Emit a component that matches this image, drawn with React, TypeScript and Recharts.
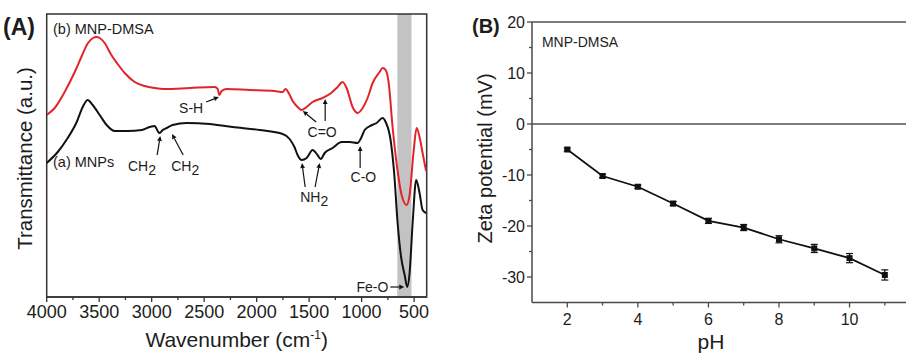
import React from 'react';
import {
  ComposedChart,
  Line,
  XAxis,
  YAxis,
  ReferenceArea,
  ReferenceLine,
  ReferenceDot,
  ErrorBar,
} from 'recharts';

const FONT = '"Liberation Sans", Arial, Helvetica, sans-serif';
const TEXT = '#1c1c1c';
const AXIS = '#333333';
const AXIS_B = '#4a4a4a';
const GUIDE_B = '#7c7c7c';

// ---------------- Panel A: FTIR spectra ----------------
const mnpDmsaWavenumber = [4000, 3924, 3829, 3733, 3670, 3607, 3559, 3527, 3495, 3448, 3384, 3324, 3257, 3162, 3067, 2971, 2876, 2638, 2400, 2371, 2355, 2333, 2286, 2067, 1830, 1752, 1724, 1690, 1657, 1610, 1571, 1524, 1467, 1371, 1290, 1229, 1181, 1140, 1086, 1038, 990, 943, 895, 829, 800, 771, 743, 705, 657, 619, 571, 543, 505, 476, 448, 419, 386];
const mnpDmsaTransmittance = [182, 189, 205, 225, 240, 254, 259, 260, 259, 254, 242, 233, 224, 215, 211, 209, 208, 209, 210, 208, 202, 206, 208, 207, 206, 205, 208, 203, 196, 190, 187, 190, 195, 199, 204, 210, 215, 208, 190, 184, 189, 199, 214, 225, 229, 227, 215, 170, 126, 102, 92, 102, 145, 169, 160, 144, 126];

const mnpWavenumber = [4000, 3895, 3800, 3714, 3657, 3610, 3562, 3495, 3429, 3352, 3229, 3095, 3019, 2971, 2943, 2924, 2895, 2857, 2800, 2667, 2448, 2229, 1971, 1752, 1686, 1640, 1610, 1571, 1524, 1467, 1420, 1390, 1352, 1276, 1190, 1114, 1038, 1005, 971, 900, 857, 800, 771, 724, 690, 657, 624, 590, 565, 543, 514, 480, 448, 419, 386];
const mnpTransmittance = [134, 145, 159, 175, 190, 197, 192, 182, 172, 166, 166, 167, 170, 171, 166, 164, 167, 169, 172, 174, 173, 170, 167, 163, 158, 150, 142, 137, 139, 147, 142, 138, 144, 149, 155, 155, 154, 159, 167, 172, 174, 179, 175, 157, 124, 74, 40, 22, 10, 24, 74, 117, 104, 87, 84];

const ftirDomain = [380, 4000];
const transDomain = [0, 283];
const ftirMajorTicks = [4000, 3500, 3000, 2500, 2000, 1500, 1000, 500];
const ftirMinorTicks = [3750, 3250, 2750, 2250, 1750, 1250, 750];
const feOBand = [660, 525];

const seriesLabels = [
  { text: '(b) MNP-DMSA', wn: 3940, t: 268 },
  { text: '(a) MNPs', wn: 3940, t: 135 },
];

const peakLabels = [
  { text: 'S-H', sub: '', wn: 2624, t: 189, anchor: 'middle' },
  { text: 'CH', sub: '2', wn: 3092, t: 131, anchor: 'middle' },
  { text: 'CH', sub: '2', wn: 2681, t: 131, anchor: 'middle' },
  { text: 'C=O', sub: '', wn: 1376, t: 165, anchor: 'middle' },
  { text: 'NH', sub: '2', wn: 1452, t: 100, anchor: 'middle' },
  { text: 'C-O', sub: '', wn: 983, t: 120, anchor: 'middle' },
  { text: 'Fe-O', sub: '', wn: 746, t: 10, anchor: 'end' },
];

const peakArrows = [
  { from: [2481, 195], to: [2360, 200] },
  { from: [2948, 142], to: [2918, 161] },
  { from: [2700, 142], to: [2806, 163] },
  { from: [1433, 175], to: [1560, 186] },
  { from: [1347, 176], to: [1347, 198] },
  { from: [1538, 110], to: [1568, 134] },
  { from: [1443, 110], to: [1400, 134] },
  { from: [1014, 129], to: [1014, 151] },
  { from: [727, 10], to: [594, 10] },
];

// ---------------- Panel B: zeta potential ----------------
const phValues = [2, 3, 4, 5, 6, 7, 8, 9, 10, 11];
const zetaValues = [-5.0, -10.2, -12.3, -15.6, -19.0, -20.3, -22.6, -24.4, -26.3, -29.6];
const zetaErrors = [0.3, 0.35, 0.35, 0.4, 0.5, 0.6, 0.7, 0.8, 0.9, 1.0];
const phDomain = [1, 11.6];
const zetaDomain = [-35, 20];
const phMajorTicks = [2, 4, 6, 8, 10];
const phMinorTicks = [3, 5, 7, 9, 11];
const zetaMajorTicks = [-30, -20, -10, 0, 10, 20];
const zetaMinorTicks = [-25, -15, -5, 5, 15];
const zetaSampleLabel = { text: 'MNP-DMSA', ph: 1.28, z: 16.1 };

const mnpDmsaData = mnpDmsaWavenumber.map((wn, i) => ({ wn, t: mnpDmsaTransmittance[i] }));
const mnpData = mnpWavenumber.map((wn, i) => ({ wn, t: mnpTransmittance[i] }));
const zetaData = phValues.map((ph, i) => ({ ph, z: zetaValues[i], err: zetaErrors[i] }));

const FtirTick = (props: any) => {
  const { x, y, payload } = props;
  const major = ftirMajorTicks.includes(payload.value);
  return (
    <g>
      <line x1={x} y1={y} x2={x} y2={y + (major ? 5 : 3)} stroke={AXIS} strokeWidth={1.3} />
      {major && (
        <text x={x} y={y + 21} textAnchor="middle" fontSize={18} fill={TEXT} fontFamily={FONT}>
          {payload.value}
        </text>
      )}
    </g>
  );
};

const PhTick = (props: any) => {
  const { x, y, payload } = props;
  const major = phMajorTicks.includes(payload.value);
  return (
    <g>
      <line x1={x} y1={y} x2={x} y2={y + (major ? 5 : 3)} stroke={AXIS_B} strokeWidth={1.3} />
      {major && (
        <text x={x} y={y + 22.5} textAnchor="middle" fontSize={16} fill={TEXT} fontFamily={FONT}>
          {payload.value}
        </text>
      )}
    </g>
  );
};

const ZetaTick = (props: any) => {
  const { x, y, payload } = props;
  const major = zetaMajorTicks.includes(payload.value);
  return (
    <g>
      <line x1={x - (major ? 5 : 3)} y1={y} x2={x} y2={y} stroke={AXIS_B} strokeWidth={1.3} />
      {major && (
        <text x={x - 7} y={y + 6} textAnchor="end" fontSize={16} fill={TEXT} fontFamily={FONT}>
          {payload.value}
        </text>
      )}
    </g>
  );
};

const arrowShape = (p: any) => {
  const { x1, y1, x2, y2 } = p;
  const dx = x2 - x1;
  const dy = y2 - y1;
  const len = Math.hypot(dx, dy) || 1;
  const ux = dx / len;
  const uy = dy / len;
  const hl = 5;
  const hw = 2.4;
  const bx = x2 - ux * hl;
  const by = y2 - uy * hl;
  return (
    <g>
      <line x1={x1} y1={y1} x2={bx} y2={by} stroke="#111" strokeWidth={1.2} />
      <polygon
        points={`${x2},${y2} ${bx - uy * hw},${by + ux * hw} ${bx + uy * hw},${by - ux * hw}`}
        fill="#111"
      />
    </g>
  );
};

const makeTextShape = (text: string, sub: string, anchor: string, size: number) => (p: any) => (
  <text
    x={p.cx}
    y={p.cy}
    textAnchor={anchor as any}
    dominantBaseline="central"
    fontSize={size}
    fill={TEXT}
    fontFamily={FONT}
  >
    {text}
    {sub ? (
      <tspan dy={4} fontSize={size}>
        {sub}
      </tspan>
    ) : null}
  </text>
);

const ftirYTitle = (p: any) => {
  const vb = p.viewBox || { x: 0, y: 14, width: 46.7, height: 283 };
  const cx = vb.x + 32;
  const cy = vb.y + vb.height / 2 + 3;
  return (
    <text
      x={cx}
      y={cy}
      transform={`rotate(-90, ${cx}, ${cy})`}
      textAnchor="middle"
      fontSize={20.5}
      fill={TEXT}
      fontFamily={FONT}
    >
      Transmittance (a.u.)
    </text>
  );
};

const ftirXTitle = (p: any) => {
  const vb = p.viewBox || { x: 46.7, y: 297, width: 380, height: 57 };
  return (
    <text x={vb.x + vb.width / 2} y={vb.y + 50} textAnchor="middle" fontSize={21} fill={TEXT} fontFamily={FONT}>
      Wavenumber (cm
      <tspan dy={-8} fontSize={12}>-1</tspan>
      <tspan dy={8}>)</tspan>
    </text>
  );
};

const zetaYTitle = (p: any) => {
  const vb = p.viewBox || { x: 0, y: 22, width: 82, height: 280.5 };
  const cx = vb.x + 42;
  const cy = vb.y + vb.height / 2 - 3.75;
  return (
    <text
      x={cx}
      y={cy}
      transform={`rotate(-90, ${cx}, ${cy})`}
      textAnchor="middle"
      fontSize={20}
      fill={TEXT}
      fontFamily={FONT}
    >
      Zeta potential (mV)
    </text>
  );
};

const zetaXTitle = (p: any) => {
  const vb = p.viewBox || { x: 82, y: 302.5, width: 374, height: 51.5 };
  return (
    <text x={vb.x + vb.width / 2 - 8} y={vb.y + 46.5} textAnchor="middle" fontSize={21} fill={TEXT} fontFamily={FONT}>
      pH
    </text>
  );
};

const squareDot = (p: any) => (
  <rect key={`sq-${p.index}`} x={p.cx - 3} y={p.cy - 3} width={6} height={6} fill="#111" />
);

export default function App() {
  return (
    <div
      style={{
        position: 'absolute',
        left: 0,
        top: 0,
        width: 906,
        height: 354,
        background: '#ffffff',
        fontFamily: FONT,
        overflow: 'hidden',
      }}
    >
      <div style={{ position: 'absolute', left: 0, top: 0 }}>
        <ComposedChart width={440} height={354} margin={{ top: 14, right: 13.3, bottom: 0, left: 0 }}>
          <XAxis
            type="number"
            dataKey="wn"
            domain={ftirDomain}
            reversed
            allowDataOverflow
            ticks={[...ftirMajorTicks, ...ftirMinorTicks]}
            interval={0}
            tickLine={false}
            tickSize={0}
            tickMargin={0}
            height={57}
            axisLine={{ stroke: AXIS, strokeWidth: 1.5 }}
            tick={FtirTick}
            label={{ content: ftirXTitle }}
          />
          <YAxis
            type="number"
            domain={transDomain}
            allowDataOverflow
            width={46.7}
            axisLine={false}
            tickLine={false}
            tick={false}
            label={{ content: ftirYTitle }}
          />
          <ReferenceArea
            x1={feOBand[0]}
            x2={feOBand[1]}
            y1={transDomain[0]}
            y2={transDomain[1]}
            fill="#c3c3c3"
            fillOpacity={1}
            stroke="none"
            ifOverflow="visible"
          />
          <Line
            data={mnpDmsaData}
            dataKey="t"
            type="monotone"
            stroke="#e2242a"
            strokeWidth={2}
            dot={false}
            isAnimationActive={false}
          />
          <Line
            data={mnpData}
            dataKey="t"
            type="monotone"
            stroke="#121212"
            strokeWidth={2}
            dot={false}
            isAnimationActive={false}
          />
          <ReferenceArea
            x1={ftirDomain[1]}
            x2={ftirDomain[0]}
            y1={transDomain[0]}
            y2={transDomain[1]}
            fill="none"
            stroke={AXIS}
            strokeWidth={1.5}
            ifOverflow="visible"
          />
          {peakArrows.map((a, i) => (
            <ReferenceLine
              key={`arr-${i}`}
              segment={[
                { x: a.from[0], y: a.from[1] },
                { x: a.to[0], y: a.to[1] },
              ]}
              shape={arrowShape}
              ifOverflow="visible"
            />
          ))}
          {peakLabels.map((l, i) => (
            <ReferenceDot
              key={`pl-${i}`}
              x={l.wn}
              y={l.t}
              r={0}
              ifOverflow="visible"
              shape={makeTextShape(l.text, l.sub, l.anchor, 14)}
            />
          ))}
          {seriesLabels.map((l, i) => (
            <ReferenceDot
              key={`sl-${i}`}
              x={l.wn}
              y={l.t}
              r={0}
              ifOverflow="visible"
              shape={makeTextShape(l.text, '', 'start', 14.5)}
            />
          ))}
        </ComposedChart>
      </div>

      <div style={{ position: 'absolute', left: 450, top: 0 }}>
        <ComposedChart width={456} height={354} margin={{ top: 22, right: 0, bottom: 0, left: 0 }}>
          <XAxis
            type="number"
            dataKey="ph"
            domain={phDomain}
            allowDataOverflow
            ticks={[...phMajorTicks, ...phMinorTicks]}
            interval={0}
            tickLine={false}
            tickSize={0}
            tickMargin={0}
            height={51.5}
            axisLine={{ stroke: AXIS_B, strokeWidth: 1.5 }}
            tick={PhTick}
            label={{ content: zetaXTitle }}
          />
          <YAxis
            type="number"
            domain={zetaDomain}
            allowDataOverflow
            ticks={[...zetaMajorTicks, ...zetaMinorTicks]}
            interval={0}
            width={82}
            tickLine={false}
            tickSize={0}
            tickMargin={0}
            axisLine={{ stroke: AXIS_B, strokeWidth: 1.5 }}
            tick={ZetaTick}
            label={{ content: zetaYTitle }}
          />
          <ReferenceLine y={20} stroke={GUIDE_B} strokeWidth={2} ifOverflow="visible" />
          <ReferenceLine y={0} stroke={GUIDE_B} strokeWidth={2} />
          <Line
            data={zetaData}
            dataKey="z"
            type="linear"
            stroke="#111"
            strokeWidth={1.8}
            dot={squareDot}
            isAnimationActive={false}
          >
            <ErrorBar dataKey="err" direction="y" width={3.5} stroke="#111" strokeWidth={1.2} />
          </Line>
          <ReferenceDot
            x={zetaSampleLabel.ph}
            y={zetaSampleLabel.z}
            r={0}
            ifOverflow="visible"
            shape={makeTextShape(zetaSampleLabel.text, '', 'start', 14)}
          />
        </ComposedChart>
      </div>

      <svg
        width={906}
        height={354}
        style={{ position: 'absolute', left: 0, top: 0, pointerEvents: 'none' }}
      >
        <text x={3} y={35} fontSize={23} fontWeight="bold" fill={TEXT} fontFamily={FONT}>
          (A)
        </text>
        <text x={472} y={33} fontSize={20} fontWeight="bold" fill={TEXT} fontFamily={FONT}>
          (B)
        </text>
      </svg>
    </div>
  );
}
